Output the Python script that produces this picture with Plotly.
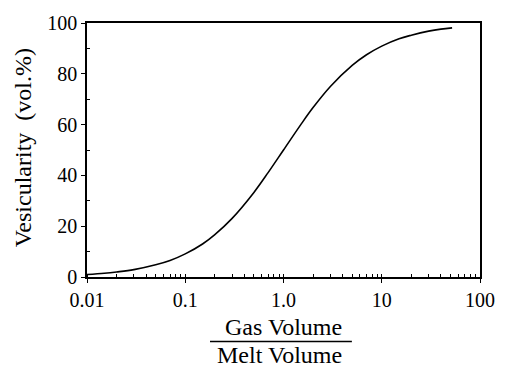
import plotly.graph_objects as go

# Gas/melt volume ratio and vesicularity
ratio = [0.01, 0.015, 0.02, 0.03, 0.05, 0.07, 0.1, 0.15, 0.2, 0.3, 0.5, 0.7,
         1.0, 1.5, 2.0, 3.0, 5.0, 7.0, 10, 15, 20, 30, 40, 52]
vesicularity = [1.0, 1.5, 2.0, 2.9, 4.8, 6.5, 9.1, 13.0, 16.7, 23.1, 33.3, 41.2,
                50.0, 60.0, 66.7, 75.0, 83.3, 87.5, 90.9, 93.8, 95.2, 96.8, 97.6, 98.1]

x_tickvals = [0.01, 0.1, 1, 10, 100]
x_ticktext = ["0.01", "0.1", "1.0", "10", "100"]
y_tickvals = [0, 20, 40, 60, 80, 100]
y_minor = [10, 30, 50, 70, 90]

FONT = "Liberation Serif"

fig = go.Figure()
fig.add_trace(go.Scatter(x=ratio, y=vesicularity, mode="lines",
                         line=dict(color="black", width=1.6, shape="spline"),
                         showlegend=False, hoverinfo="skip"))

fig.update_layout(
    width=507, height=371,
    margin=dict(l=87, r=18, t=17, b=94),
    paper_bgcolor="white", plot_bgcolor="white",
    font=dict(family=FONT, size=20, color="black"),
    xaxis=dict(type="log", range=[-2, 2], tickvals=x_tickvals, ticktext=x_ticktext,
               showgrid=False, zeroline=False, showline=True, linecolor="black",
               linewidth=1.6, mirror=True, ticks="outside", ticklen=4,
               tickcolor="black", tickwidth=1.2, tickfont=dict(size=20, family=FONT),
               minor=dict(ticks="inside", ticklen=3, tickcolor="black", tickwidth=1,
                          dtick="D1", showgrid=False)),
    yaxis=dict(range=[0, 100], tickvals=y_tickvals, showgrid=False,
               zeroline=False, showline=True, linecolor="black", linewidth=1.6,
               mirror=True, ticks="outside", ticklen=4, tickcolor="black",
               tickwidth=1.2, tickfont=dict(size=20, family=FONT),
               minor=dict(ticks="inside", ticklen=3, tickcolor="black", tickwidth=1,
                          tickvals=y_minor, showgrid=False)),
)

fig.add_annotation(text="Vesicularity\u00a0\u00a0(vol.%)", xref="paper", yref="paper",
                   x=-0.162, y=0.508, textangle=-90, showarrow=False,
                   xanchor="center", yanchor="middle",
                   font=dict(size=24, family=FONT))
fig.add_annotation(text="Gas Volume", xref="paper", yref="paper",
                   x=0.501, y=-0.196, showarrow=False, yanchor="middle",
                   font=dict(size=24, family=FONT))
fig.add_annotation(text="Melt Volume", xref="paper", yref="paper",
                   x=0.489, y=-0.308, showarrow=False, yanchor="middle",
                   font=dict(size=24, family=FONT))
fig.add_shape(type="line", xref="paper", yref="paper",
              x0=0.313, x1=0.674, y0=-0.254, y1=-0.254,
              line=dict(color="black", width=1.6))

fig.write_html("out.html")
